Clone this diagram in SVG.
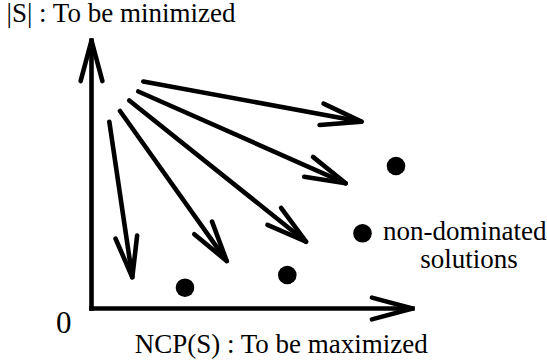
<svg xmlns="http://www.w3.org/2000/svg" width="547" height="363" viewBox="0 0 547 363">
  <style>
    .lbl { font-family: 'Liberation Serif', 'Times New Roman', Times, serif; font-size: 27px; fill: #000; }
    .axis, .arrow { fill: none; stroke: #000; stroke-width: 4.6; stroke-linecap: round; marker-end: url(#head); }
    .dot { fill: #000; }
  </style>
  <defs>
    <!-- open chevron arrowhead, drawn in user units so all heads match -->
    <marker id="head" markerUnits="userSpaceOnUse" markerWidth="60" markerHeight="40"
            viewBox="-50 -20 60 40" refX="0" refY="0" orient="auto" overflow="visible">
      <path d="M-40.6,-10.9 L0,0 L-40.6,10.9" fill="none" stroke="#000" stroke-width="4.6"
            stroke-linecap="round" stroke-linejoin="round"/>
    </marker>
  </defs>

  <!-- axes -->
  <g id="axes">
    <path class="axis" d="M91.5,308.5 V40.5" style="stroke-linecap:square"/>
    <path class="axis" d="M91.5,308.5 H412.5" style="stroke-linecap:square"/>
    <text class="lbl" x="6.5" y="21.5">|S| : To be minimized</text>
    <text class="lbl" x="56" y="332.5" style="font-size:31px">0</text>
    <text class="lbl" x="134.7" y="353.3">NCP(S) : To be maximized</text>
  </g>

  <!-- search directions fanning out from the upper-left corner -->
  <g id="connectors">
    <path class="arrow" d="M143.3,81.5 L361.5,121.7"/>
    <path class="arrow" d="M138.3,91.5 L345.7,183.3"/>
    <path class="arrow" d="M129.3,100.5 L306,241.7"/>
    <path class="arrow" d="M120,111 L226.7,261"/>
    <path class="arrow" d="M109.3,121.7 L132.3,277.3"/>
  </g>

  <!-- non-dominated solutions -->
  <g id="solutions">
    <circle class="dot" cx="396" cy="166" r="9.3"/>
    <circle class="dot" cx="362.5" cy="233.3" r="9.3"/>
    <circle class="dot" cx="287.3" cy="275" r="9.3"/>
    <circle class="dot" cx="185" cy="287.7" r="9.3"/>
  </g>

  <g id="legend">
    <text class="lbl" x="383" y="240">non-dominated</text>
    <text class="lbl" x="420.3" y="268">solutions</text>
  </g>
</svg>
